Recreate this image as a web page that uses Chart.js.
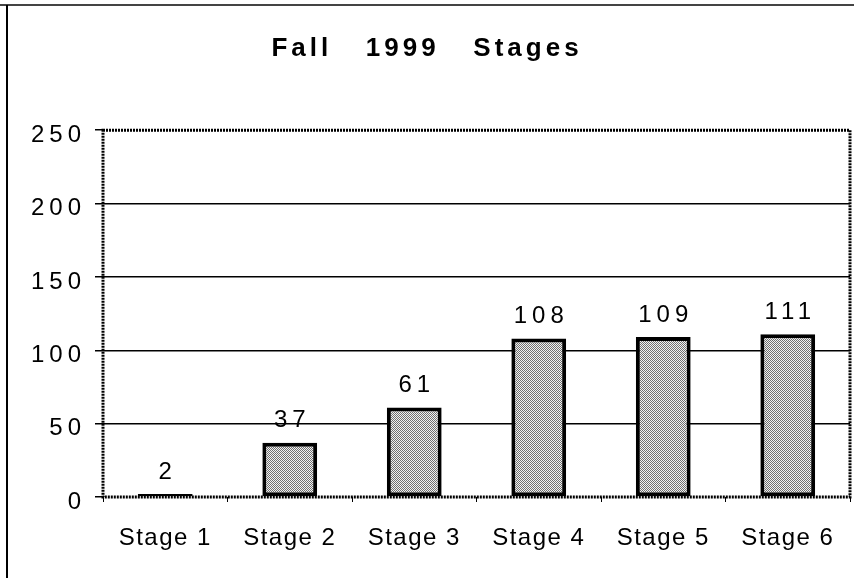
<!DOCTYPE html>
<html>
<head>
<meta charset="utf-8">
<script src="https://cdn.jsdelivr.net/npm/chart.js@4/dist/chart.umd.min.js"></script>
<style>
  html, body { margin: 0; padding: 0; background: #fff; overflow: hidden; }
  canvas { display: block; }
</style>
</head>
<body>
<canvas id="chart" width="854" height="578"></canvas>
<script>
// chart data
const categories = ["Stage 1", "Stage 2", "Stage 3", "Stage 4", "Stage 5", "Stage 6"];
const counts = [2, 37, 61, 108, 109, 111];
const yTicks = [0, 50, 100, 150, 200, 250];
const chartTitle = "Fall   1999   Stages";

const FONT = '"Liberation Sans", Arial, Helvetica, sans-serif';
const WIDE = "5px";    // digits are tracked wide in the original
const NARROW = "1.5px"; // category labels
const TITLE_SP = "4px";

const canvas = document.getElementById("chart");
const ctx = canvas.getContext("2d");

// stippled grey fill like the old print
function dotPattern() {
    const c = document.createElement("canvas");
    c.width = 2;
    c.height = 2;
    const g = c.getContext("2d");
    g.fillStyle = "#f2f2f2";
    g.fillRect(0, 0, 2, 2);
    g.fillStyle = "#707070";
    g.fillRect(0, 0, 1, 1);
    g.fillRect(1, 1, 1, 1);
    return ctx.createPattern(c, "repeat");
}

// wrap a draw method so it runs with its own letter spacing
function withSpacing(obj, method, spacing) {
    if (!obj || obj["_sp_" + method]) return;
    const orig = obj[method];
    obj[method] = function () {
        const prev = this.ctx.letterSpacing;
        this.ctx.letterSpacing = spacing;
        orig.apply(this, arguments);
        this.ctx.letterSpacing = prev;
    };
    obj["_sp_" + method] = true;
}

// letter spacing + outer frame lines
const spacingPlugin = {
    id: "spacing",
    beforeUpdate(chart) {
        chart.ctx.letterSpacing = WIDE;
    },
    afterLayout(chart) {
        withSpacing(chart.scales.x, "drawLabels", NARROW);
        withSpacing(chart.titleBlock, "draw", TITLE_SP);
    },
    beforeDraw(chart) {
        const c = chart.ctx;
        c.letterSpacing = WIDE;
        c.save();
        c.strokeStyle = "#444";
        c.lineWidth = 2;
        c.beginPath();
        c.moveTo(0, 5);
        c.lineTo(chart.width, 5);
        c.stroke();
        c.strokeStyle = "#000";
        c.beginPath();
        c.moveTo(7, 5);
        c.lineTo(7, chart.height);
        c.stroke();
        c.restore();
    }
};

// dotted border round the plot area
const plotFrame = {
    id: "plotFrame",
    beforeDatasetsDraw(chart) {
        const a = chart.chartArea;
        const c = chart.ctx;
        c.save();
        c.strokeStyle = "#000";
        c.lineWidth = 3;
        c.setLineDash([2, 1]);
        c.strokeRect(a.left, a.top, a.right - a.left, a.bottom - a.top);
        c.restore();
    }
};

// numbers above bars
const valueLabels = {
    id: "valueLabels",
    afterDatasetsDraw(chart) {
        const c = chart.ctx;
        const meta = chart.getDatasetMeta(0);
        c.save();
        c.letterSpacing = WIDE;
        c.fillStyle = "#000";
        c.font = "24px " + FONT;
        c.textAlign = "center";
        c.textBaseline = "middle";
        meta.data.forEach((bar, i) => {
            c.fillText(String(counts[i]), bar.x + 2.5, bar.y - 22);
        });
        c.restore();
    }
};

new Chart(ctx, {

    type: "bar",

    data: {
        labels: categories,
        datasets: [{
            data: counts,
            backgroundColor: dotPattern(),
            borderColor: "#000",
            borderWidth: 4,
            borderSkipped: false,
            barPercentage: 1,
            categoryPercentage: 0.44
        }]
    },

    options: {
        responsive: false,
        animation: false,
        layout: {
            padding: { left: 4, right: 4, top: 0, bottom: 0 }
        },
        plugins: {
            legend: { display: false },
            tooltip: { enabled: false },
            title: {
                display: true,
                text: chartTitle,
                color: "#000",
                font: { family: FONT, size: 26, weight: "bold", lineHeight: 1.2 },
                padding: { top: 33, bottom: 66 }
            }
        },
        scales: {
            x: {
                border: { display: false },
                grid: {
                    offset: true,
                    drawOnChartArea: false,
                    tickLength: 5,
                    tickColor: "#000",
                    lineWidth: 1
                },
                ticks: {
                    color: "#000",
                    font: { family: FONT, size: 24 },
                    padding: 22
                },
                afterFit(scale) {
                    scale.height = 81;
                    scale.paddingLeft = 0;
                    scale.paddingRight = 0;
                }
            },
            y: {
                min: 0,
                max: 250,
                border: { display: false },
                afterBuildTicks(scale) {
                    scale.ticks = yTicks.map(v => ({ value: v }));
                },
                grid: {
                    color: c => (c.tick && (c.tick.value === 0 || c.tick.value === 250)) ? "rgba(0,0,0,0)" : "#000",
                    lineWidth: 1.5,
                    tickLength: 8,
                    tickColor: "#000"
                },
                ticks: {
                    color: "#000",
                    font: { family: FONT, size: 24 },
                    padding: 9,
                    labelOffset: 5
                },
                afterFit(scale) {
                    scale.width = 99;
                    scale.paddingTop = 0;
                    scale.paddingBottom = 0;
                }
            }
        }
    },

    plugins: [spacingPlugin, plotFrame, valueLabels]

});
</script>
</body>
</html>
